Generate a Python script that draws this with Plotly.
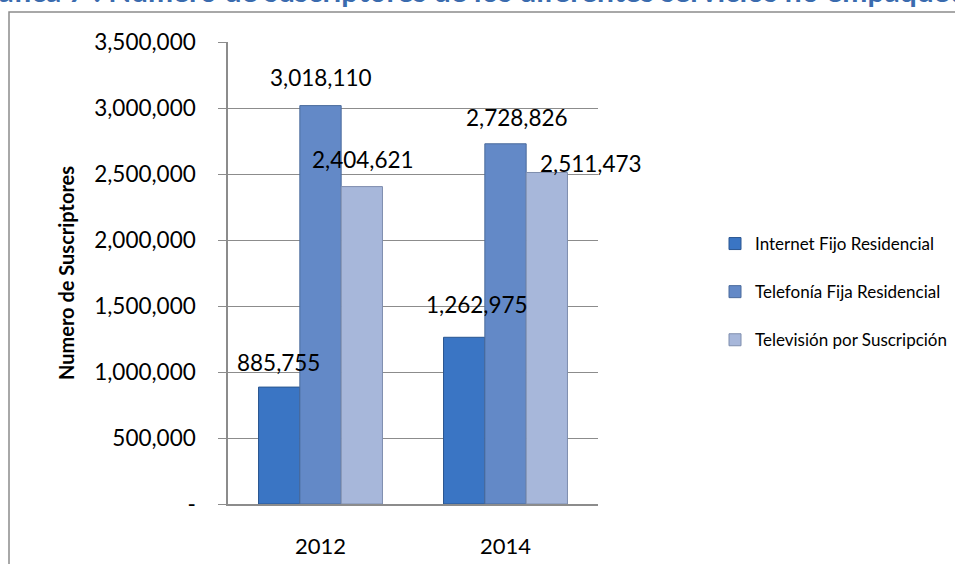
import plotly.graph_objects as go

# Subscriber counts per non-bundled service
years = ["2012", "2014"]
series_names = ["Internet Fijo Residencial", "Telefonía Fija Residencial", "Televisión por Suscripción"]
internet = [885755, 1262975]
telefonia = [3018110, 2728826]
television = [2404621, 2511473]

tick_values = [0, 500000, 1000000, 1500000, 2000000, 2500000, 3000000, 3500000]
tick_labels = ["-", "500,000", "1,000,000", "1,500,000", "2,000,000", "2,500,000", "3,000,000", "3,500,000"]

title_text = "Gráfica 7 : Número de suscriptores de los diferentes servicios no empaquetados"
y_title = "Numero de Suscriptores"

all_series = [internet, telefonia, television]
colors = ["#3A75C4", "#6389C7", "#A7B7DA"]
edge_colors = ["#2A5690", "#4A6A9C", "#7F8EAE"]

FONT = "Lato, 'Open Sans', sans-serif"

# plot area geometry in pixels
L, R, T, B = 228, 357, 42, 60
W, H = 955 - L - R, 564 - T - B
BAR_PX = 41

fig = go.Figure()
for i, (name, vals) in enumerate(zip(series_names, all_series)):
    fig.add_trace(go.Bar(
        x=years, y=vals, name=name, legendgroup=name,
        marker=dict(color=colors[i], line=dict(color=edge_colors[i], width=1)),
        hoverinfo="skip",
    ))

# value labels (pixel nudges per label: series x year)
nudge_x = [[-1, 12], [0, 11], [1, 44]]
nudge_y = [[25, 33], [28, 26], [27, 9]]
for i, vals in enumerate(all_series):
    for j, v in enumerate(vals):
        fig.add_annotation(
            x=j, y=v, text=f"{v:,}", showarrow=False,
            xshift=(i - 1) * BAR_PX + nudge_x[i][j], yshift=nudge_y[i][j],
            yanchor="middle", font=dict(family=FONT, size=22.5, color="#000000"),
        )

# heading running off the top edge
fig.add_annotation(
    xref="paper", yref="paper", x=(-36 - L) / W, y=(T + H + 10) / H,
    yanchor="middle", xanchor="left", text=f"<b>{title_text}</b>", showarrow=False,
    font=dict(family=FONT, size=30, color="#3A6BAE"),
)

# chart frame
fig.add_shape(
    type="rect", xref="paper", yref="paper",
    x0=(9 - L) / W, x1=(965 - L) / W,
    y0=(564 - B - 575) / H, y1=(564 - B - 12) / H,
    line=dict(color="#8C8C8C", width=1.5), fillcolor="rgba(0,0,0,0)", layer="below",
)

fig.update_layout(
    width=955, height=564,
    margin=dict(l=L, r=R, t=T, b=B, pad=0, autoexpand=False),
    paper_bgcolor="white", plot_bgcolor="white",
    barmode="group", bargap=0.33, bargroupgap=0,
    font=dict(family=FONT, size=19, color="#000000"),
    showlegend=True,
    legend=dict(
        x=(715 - L) / W, y=(564 - B - 292) / H, xanchor="left", yanchor="middle",
        font=dict(family=FONT, size=17, color="#000000"),
        tracegroupgap=23, traceorder="grouped", itemwidth=30,
        bgcolor="rgba(0,0,0,0)",
    ),
    xaxis=dict(
        type="category", range=[-0.5, 1.5],
        showline=True, linecolor="#8C8C8C", linewidth=1.5,
        ticks="", showgrid=False, tickfont=dict(family=FONT, size=22),
        ticklabelstandoff=22,
    ),
    yaxis=dict(
        range=[0, 3500000], tickvals=tick_values, ticktext=tick_labels,
        showgrid=True, gridcolor="#8C8C8C", gridwidth=1,
        showline=True, linecolor="#8C8C8C", linewidth=1.5,
        ticks="outside", ticklen=8, tickcolor="#8C8C8C",
        tickfont=dict(family=FONT, size=22.5), ticklabelstandoff=18,
        zeroline=False,
        title=dict(text=f"<b>{y_title}</b>", font=dict(family=FONT, size=20), standoff=14),
    ),
)

fig.write_html("out.html")
